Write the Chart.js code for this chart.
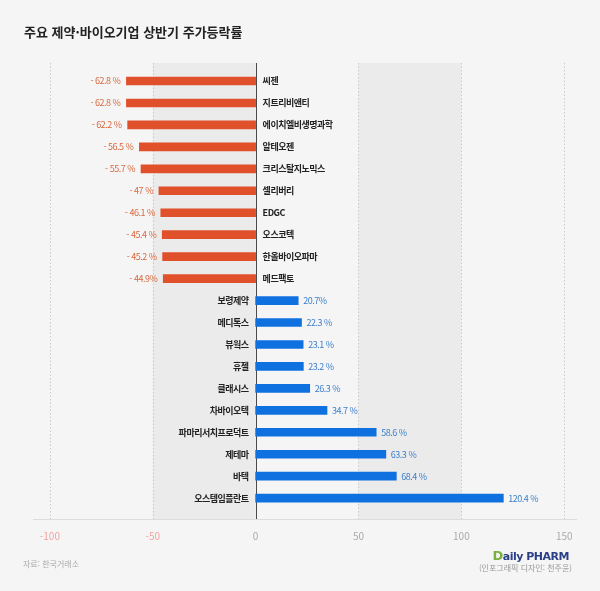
<!DOCTYPE html>
<html lang="ko">
<head>
<meta charset="utf-8">
<script src="https://cdn.jsdelivr.net/npm/chart.js@4"></script>
<style>
  html, body { margin: 0; padding: 0; background: #f5f5f5; }
  #wrap { position: relative; width: 600px; height: 591px; overflow: hidden; }
  #grafico { position: absolute; left: 0; top: 0; }
  .txt { position: absolute; font-family: "Noto Sans CJK KR", sans-serif; white-space: nowrap; }
  #titulo { left: 24px; top: 22px; font-size: 13px; font-weight: bold; color: #222; }
  #fonte { left: 23px; top: 558px; font-size: 8px; color: #aaa; }
  #logo { right: 31px; top: 548px; font-family: "DejaVu Sans", sans-serif; font-size: 11px; font-weight: bold; letter-spacing: -0.5px; color: #2b3f86; }
  #logo span { color: #78b13f; font-size: 13px; }
  #credito { right: 28px; top: 562px; font-size: 8px; color: #999; }
</style>
</head>
<body>
<div id="wrap">
  <canvas id="grafico" width="600" height="591"></canvas>
  <div class="txt" id="titulo">주요 제약·바이오기업 상반기 주가등락률</div>
  <div class="txt" id="fonte">자료: 한국거래소</div>
  <div class="txt" id="logo"><span>D</span>aily PHARM</div>
  <div class="txt" id="credito">(인포그래픽 디자인: 천주윤)</div>
</div>
<script>
const empresas = ['씨젠', '지트리비앤티', '에이치엘비생명과학', '알테오젠', '크리스탈지노믹스', '셀리버리', 'EDGC', '오스코텍', '한올바이오파마', '메드팩토',
    '보령제약', '메디톡스', '뷰웍스', '휴젤', '클래시스', '차바이오텍', '파마리서치프로덕트', '제테마', '바텍', '오스템임플란트'];
const variacao = [-62.8, -62.8, -62.2, -56.5, -55.7, -47, -46.1, -45.4, -45.2, -44.9,
    20.7, 22.3, 23.1, 23.2, 26.3, 34.7, 58.6, 63.3, 68.4, 120.4];
const rotulos = ['- 62.8 %', '- 62.8 %', '- 62.2 %', '- 56.5 %', '- 55.7 %', '- 47 %', '- 46.1 %', '- 45.4 %', '- 45.2 %', '- 44.9%',
    '20.7%', '22.3 %', '23.1 %', '23.2 %', '26.3 %', '34.7 %', '58.6 %', '63.3 %', '68.4 %', '120.4 %'];
const ticksX = [-100, -50, 0, 50, 100, 150];

const FONTE = '"Noto Sans CJK KR", sans-serif';

// fundo: faixas cinzas, linhas pontilhadas e linha do zero
const fundoPlugin = {
    id: 'fundo',
    beforeDatasetsDraw(chart) {
        const { ctx, chartArea: a, scales: { x } } = chart;
        ctx.save();
        ctx.fillStyle = '#ebebeb';
        [[-50, 0], [50, 100]].forEach(([i, f]) => {
            const x0 = x.getPixelForValue(i), x1 = x.getPixelForValue(f);
            ctx.fillRect(x0, a.top, x1 - x0, a.bottom - a.top);
        });
        ctx.strokeStyle = '#c9c9c9';
        ctx.lineWidth = 1;
        ctx.setLineDash([1.5, 2]);
        ticksX.filter(v => v !== 0).forEach(v => {
            const px = Math.round(x.getPixelForValue(v)) + 0.5;
            ctx.beginPath();
            ctx.moveTo(px, a.top);
            ctx.lineTo(px, a.bottom);
            ctx.stroke();
        });
        ctx.setLineDash([]);
        ctx.strokeStyle = '#dcdcdc';
        ctx.beginPath();
        ctx.moveTo(a.left, Math.round(a.bottom) + 0.5);
        ctx.lineTo(a.right, Math.round(a.bottom) + 0.5);
        ctx.stroke();
        ctx.strokeStyle = '#4a4a4a';
        const z = Math.round(x.getPixelForValue(0)) + 0.5;
        ctx.beginPath();
        ctx.moveTo(z, a.top);
        ctx.lineTo(z, a.bottom);
        ctx.stroke();
        ctx.restore();
    }
};

// nomes das empresas e percentuais
const rotulosPlugin = {
    id: 'rotulos',
    afterDatasetsDraw(chart) {
        const { ctx, scales: { x, y } } = chart;
        const z = x.getPixelForValue(0);
        ctx.save();
        ctx.textBaseline = 'middle';
        variacao.forEach((v, i) => {
            const py = y.getPixelForValue(i);
            const pv = x.getPixelForValue(v);
            ctx.font = 'bold 9px ' + FONTE;
            ctx.letterSpacing = '-0.5px';
            ctx.fillStyle = '#222';
            if (v < 0) {
                ctx.textAlign = 'left';
                ctx.fillText(empresas[i], z + 7, py);
            } else {
                ctx.textAlign = 'right';
                ctx.fillText(empresas[i], z - 7, py);
            }
            ctx.font = '9px ' + FONTE;
            if (v < 0) {
                ctx.fillStyle = '#d8683f';
                ctx.textAlign = 'right';
                ctx.fillText(rotulos[i], pv - 6, py);
            } else {
                ctx.fillStyle = '#3c80cc';
                ctx.textAlign = 'left';
                ctx.fillText(rotulos[i], pv + 5, py);
            }
        });
        ctx.restore();
    }
};

new Chart(document.getElementById('grafico'), {
    type: 'bar',
    data: {
        datasets: [{
            data: variacao.map((v, i) => ({ x: v, y: i })),
            backgroundColor: variacao.map(v => v < 0 ? '#e0502a' : '#0f70df'),
            barThickness: 8,
        }]
    },
    options: {
        indexAxis: 'y',
        responsive: false,
        animation: false,
        layout: { padding: { left: 33, right: 23, top: 63, bottom: 38 } },
        plugins: { legend: { display: false }, tooltip: { enabled: false } },
        scales: {
            x: {
                type: 'linear',
                min: -108.2,
                max: 156.2,
                offset: false,
                afterBuildTicks: (scale) => { scale.ticks = ticksX.map(v => ({ value: v })); },
                grid: { display: false, drawTicks: false },
                border: { display: false },
                ticks: {
                    padding: 11,
                    color: (c) => c.tick.value < 0 ? '#f0a3a0' : '#aaa',
                    font: { family: FONTE, size: 10 },
                },
            },
            y: {
                type: 'linear',
                reverse: true,
                offset: false,
                min: -0.82,
                max: 19.95,
                display: false,
            },
        },
    },
    plugins: [fundoPlugin, rotulosPlugin],
});
</script>
</body>
</html>
